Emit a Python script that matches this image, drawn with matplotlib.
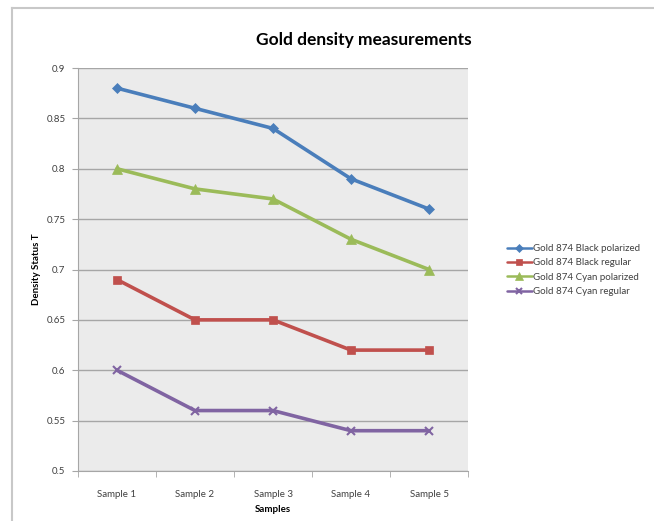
import matplotlib
matplotlib.use("Agg")
import matplotlib.pyplot as plt
from matplotlib.lines import Line2D
import numpy as np

plt.rcParams['font.family'] = ['Lato', 'DejaVu Sans']

samples = ["Sample 1", "Sample 2", "Sample 3", "Sample 4", "Sample 5"]
black_polarized = [0.88, 0.86, 0.84, 0.79, 0.76]
black_regular = [0.69, 0.65, 0.65, 0.62, 0.62]
cyan_polarized = [0.80, 0.78, 0.77, 0.73, 0.70]
cyan_regular = [0.60, 0.56, 0.56, 0.54, 0.54]
series_names = ["Gold 874 Black polarized", "Gold 874 Black regular",
                "Gold 874 Cyan polarized", "Gold 874 Cyan regular"]
y_ticks = [0.5, 0.55, 0.6, 0.65, 0.7, 0.75, 0.8, 0.85, 0.9]

W, H = 654, 521
fig = plt.figure(figsize=(W / 100, H / 100), dpi=100)

# outer chart frame (top and left edges visible)
fig.add_artist(Line2D([11.5 / W, 11.5 / W], [0, 1 - 7.5 / H], color="#c8c8c8", lw=1.5))
fig.add_artist(Line2D([11.5 / W, 1], [1 - 7.5 / H, 1 - 7.5 / H], color="#c8c8c8", lw=1.5))

left, right, top, bottom = 78, 468, 68, 471
ax = fig.add_axes([left / W, 1 - bottom / H, (right - left) / W, (bottom - top) / H])
ax.set_facecolor("#ebebeb")

x = np.arange(len(samples))
styles = [
    (black_polarized, "#4a7ebb", "D", 5),
    (black_regular, "#c0504d", "s", 6),
    (cyan_polarized, "#9bbb59", "^", 7),
    (cyan_regular, "#8064a2", "x", 6),
]
for (vals, color, marker, ms), name in zip(styles, series_names):
    ax.plot(x, vals, color=color, lw=2.6, marker=marker, markersize=ms,
            markeredgewidth=1.5 if marker == "x" else 0.5,
            markeredgecolor=color, label=name, solid_capstyle="round")

ax.set_xlim(-0.5, len(samples) - 0.5)
ax.set_ylim(0.5, 0.9)
ax.set_yticks(y_ticks)
ax.set_yticklabels([f"{v:g}" for v in y_ticks])
ax.yaxis.grid(True, color="#a6a6a6", lw=1.0)
ax.set_axisbelow(True)

ax.set_xticks(x)
ax.set_xticklabels(samples)
ax.set_xticks(np.arange(-0.5, len(samples)), minor=True)
ax.tick_params(axis="x", which="major", length=0, pad=14, labelsize=7, colors="#404040")
ax.tick_params(axis="x", which="minor", length=4, color="#a6a6a6")
ax.tick_params(axis="y", length=4, color="#a6a6a6", labelsize=7, labelcolor="#404040", pad=5)

for side in ["top", "right"]:
    ax.spines[side].set_visible(False)
ax.spines["left"].set_color("#a6a6a6")
ax.spines["bottom"].set_color("#a6a6a6")

ax.set_xlabel("Samples", fontsize=7, fontweight="bold", labelpad=4)
ax.set_ylabel("Density Status T", fontsize=7, fontweight="bold", labelpad=4)

fig.text(364 / W, 1 - 40 / H, "Gold density measurements", ha="center", va="center",
         fontsize=12.5, fontweight="bold")

leg = fig.legend(loc="center left", bbox_to_anchor=(498 / W, 1 - 270 / H), frameon=False,
                 fontsize=7, handlelength=2.6, handletextpad=0.1, labelspacing=0.55,
                 labelcolor="#404040")
for h in leg.get_lines():
    h.set_linewidth(1.8)
    h.set_markersize(h.get_markersize() * 0.8)

fig.savefig("out.png", dpi=100, facecolor="white")
